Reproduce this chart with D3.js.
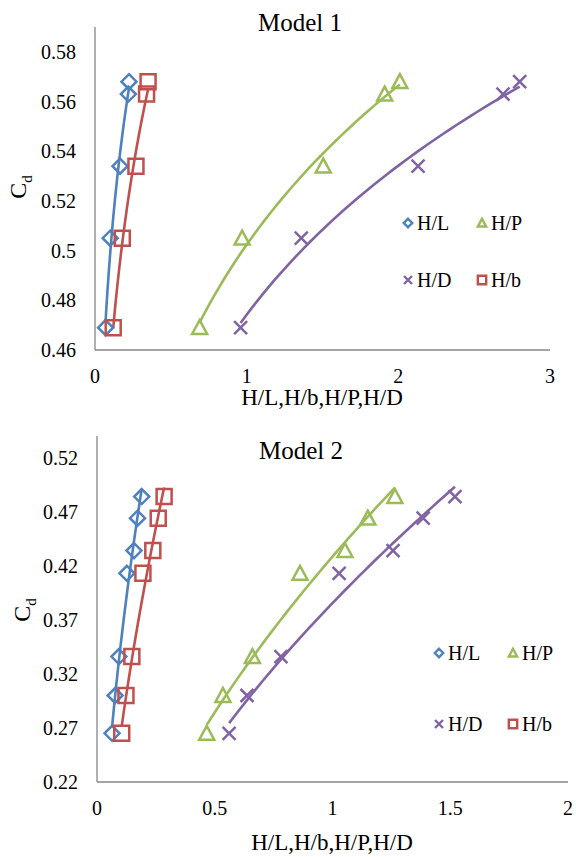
<!DOCTYPE html>
<html>
<head>
<meta charset="utf-8">
<title>Cd charts</title>
<script src="https://d3js.org/d3.v7.min.js"></script>
<style>
	body { margin: 0; background: #fff; }
</style>
</head>
<body>
<svg id="chart" width="576" height="857" font-family="'Liberation Serif', 'Times New Roman', 'DejaVu Serif', serif"></svg>
<script>
// ---- data ----
var seriesNames = ["H/L", "H/P", "H/D", "H/b"];

var cd1 = [0.469, 0.505, 0.534, 0.563, 0.568];
var hl1 = [0.07, 0.10, 0.165, 0.22, 0.224];
var hp1 = [0.69, 0.97, 1.505, 1.91, 2.01];
var hd1 = [0.96, 1.36, 2.13, 2.69, 2.80];
var hb1 = [0.12, 0.18, 0.27, 0.34, 0.35];

var cd2 = [0.265, 0.300, 0.336, 0.413, 0.434, 0.464, 0.484];
var hl2 = [0.064, 0.077, 0.093, 0.127, 0.157, 0.172, 0.19];
var hp2 = [0.466, 0.535, 0.66, 0.862, 1.053, 1.15, 1.265];
var hd2 = [0.561, 0.637, 0.781, 1.028, 1.257, 1.385, 1.52];
var hb2 = [0.105, 0.123, 0.148, 0.195, 0.237, 0.26, 0.285];

var xTicks1 = [0, 1, 2, 3];
var yTicks1 = [0.46, 0.48, 0.50, 0.52, 0.54, 0.56, 0.58];
var xTicks2 = [0, 0.5, 1, 1.5, 2];
var yTicks2 = [0.22, 0.27, 0.32, 0.37, 0.42, 0.47, 0.52];

var colors = { "H/L": "#4f81bd", "H/P": "#9bbb59", "H/D": "#8064a2", "H/b": "#c0504d" };
var shapes = { "H/L": "diamond", "H/P": "triangle", "H/D": "cross", "H/b": "square" };

var svg = d3.select("#chart");

function markerPath(shape, s) {
	// s = half size
	if (shape == "diamond") return "M0," + (-s) + "L" + s + ",0L0," + s + "L" + (-s) + ",0Z";
	if (shape == "square") return "M" + (-s) + "," + (-s) + "H" + s + "V" + s + "H" + (-s) + "Z";
	if (shape == "triangle") return "M0," + (-s) + "L" + s + "," + (s * 0.85) + "L" + (-s) + "," + (s * 0.85) + "Z";
	return "M" + (-s) + "," + (-s) + "L" + s + "," + s + "M" + (-s) + "," + s + "L" + s + "," + (-s);
}

// power trendline y = a*x^b, least squares on logs
function powerFit(xs, ys) {
	var n = xs.length, sx = 0, sy = 0, sxx = 0, sxy = 0;
	for (var i = 0; i < n; i++) {
		var lx = Math.log(xs[i]), ly = Math.log(ys[i]);
		sx += lx; sy += ly; sxx += lx * lx; sxy += lx * ly;
	}
	var b = (n * sxy - sx * sy) / (n * sxx - sx * sx);
	var a = Math.exp((sy - b * sx) / n);
	return function (x) { return a * Math.pow(x, b); };
}

function drawChart(cfg) {
	var g = svg.append("g");
	var x = d3.scaleLinear().domain(cfg.xDomain).range([cfg.left, cfg.right]);
	var y = d3.scaleLinear().domain(cfg.yDomain).range([cfg.bottom, cfg.top]);

	// axes lines
	g.append("line").attr("x1", cfg.left).attr("x2", cfg.left)
		.attr("y1", cfg.top).attr("y2", cfg.bottom)
		.attr("stroke", "#868686").attr("stroke-width", 1.3);
	g.append("line").attr("x1", cfg.left).attr("x2", cfg.right)
		.attr("y1", cfg.bottom).attr("y2", cfg.bottom)
		.attr("stroke", "#868686").attr("stroke-width", 1.3);

	g.selectAll(".yt").data(cfg.yTicks).enter().append("text")
		.attr("x", cfg.left - 19).attr("y", function (d) { return y(d); })
		.attr("dy", "0.35em").attr("text-anchor", "end").attr("font-size", "20px")
		.text(function (d) { return String(+d.toFixed(2)); });
	g.selectAll(".xt").data(cfg.xTicks).enter().append("text")
		.attr("x", function (d) { return x(d); }).attr("y", cfg.bottom + 26)
		.attr("dy", "0.35em").attr("text-anchor", "middle").attr("font-size", "20px")
		.text(function (d) { return d; });

	// titles
	g.append("text").attr("x", cfg.titleX).attr("y", cfg.titleY).attr("dy", "0.35em")
		.attr("text-anchor", "middle").attr("font-size", "25px").text(cfg.title);
	g.append("text").attr("x", cfg.xTitleX).attr("y", cfg.xTitleY).attr("dy", "0.35em")
		.attr("text-anchor", "middle").attr("font-size", "23px").text("H/L,H/b,H/P,H/D");
	var yt = g.append("text")
		.attr("transform", "translate(" + cfg.yTitleX + "," + cfg.yTitleY + ") rotate(-90)")
		.attr("text-anchor", "middle").attr("dy", "0.35em").attr("font-size", "24px");
	yt.append("tspan").text("C");
	yt.append("tspan").attr("font-size", "15px").attr("dy", "6").text("d");

	// trendlines, then markers
	cfg.series.forEach(function (s) {
		var f = powerFit(s.xs, cfg.cd);
		var x0 = d3.min(s.xs), x1 = d3.max(s.xs);
		var pts = d3.range(0, 41).map(function (i) { var xv = x0 + (x1 - x0) * i / 40; return [xv, f(xv)]; });
		g.append("path").datum(pts)
			.attr("fill", "none").attr("stroke", colors[s.name]).attr("stroke-width", 2.6)
			.attr("d", d3.line().x(function (d) { return x(d[0]); }).y(function (d) { return y(d[1]); }));
	});
	cfg.series.forEach(function (s) {
		var pts = s.xs.map(function (v, i) { return [v, cfg.cd[i]]; });
		g.selectAll(null).data(pts).enter().append("path")
			.attr("transform", function (d) { return "translate(" + x(d[0]) + "," + y(d[1]) + ")"; })
			.attr("d", markerPath(shapes[s.name], shapes[s.name] == "cross" ? 6.5 : 7.5))
			.attr("fill", "none").attr("stroke", colors[s.name]).attr("stroke-width", 2.5);
	});

	// legend
	var lg = g.append("g");
	seriesNames.forEach(function (name, i) {
		var lx = cfg.legX + (i % 2) * cfg.legDX;
		var ly = cfg.legY + Math.floor(i / 2) * cfg.legDY;
		lg.append("path").attr("transform", "translate(" + lx + "," + ly + ")")
			.attr("d", markerPath(shapes[name], name == "H/D" ? 4 : 4.2))
			.attr("fill", "none").attr("stroke", colors[name]).attr("stroke-width", 2.4);
		lg.append("text").attr("x", lx + 9).attr("y", ly).attr("dy", "0.35em")
			.attr("font-size", "20px").text(name);
	});
}

drawChart({
	title: "Model 1", titleX: 300, titleY: 22,
	left: 95, right: 550, top: 27, bottom: 350,
	xDomain: [0, 3], yDomain: [0.46, 0.59],
	xTicks: xTicks1, yTicks: yTicks1,
	xTitleX: 322, xTitleY: 397, yTitleX: 18, yTitleY: 187,
	legX: 408, legY: 223, legDX: 74, legDY: 57,
	cd: cd1,
	series: [
		{ name: "H/L", xs: hl1 }, { name: "H/b", xs: hb1 },
		{ name: "H/P", xs: hp1 }, { name: "H/D", xs: hd1 }
	]
});

drawChart({
	title: "Model 2", titleX: 301, titleY: 450,
	left: 97, right: 568, top: 436, bottom: 782,
	xDomain: [0, 2], yDomain: [0.22, 0.54],
	xTicks: xTicks2, yTicks: yTicks2,
	xTitleX: 332, xTitleY: 842, yTitleX: 22, yTitleY: 610,
	legX: 439, legY: 653, legDX: 74, legDY: 71,
	cd: cd2,
	series: [
		{ name: "H/L", xs: hl2 }, { name: "H/b", xs: hb2 },
		{ name: "H/P", xs: hp2 }, { name: "H/D", xs: hd2 }
	]
});
</script>
</body>
</html>
